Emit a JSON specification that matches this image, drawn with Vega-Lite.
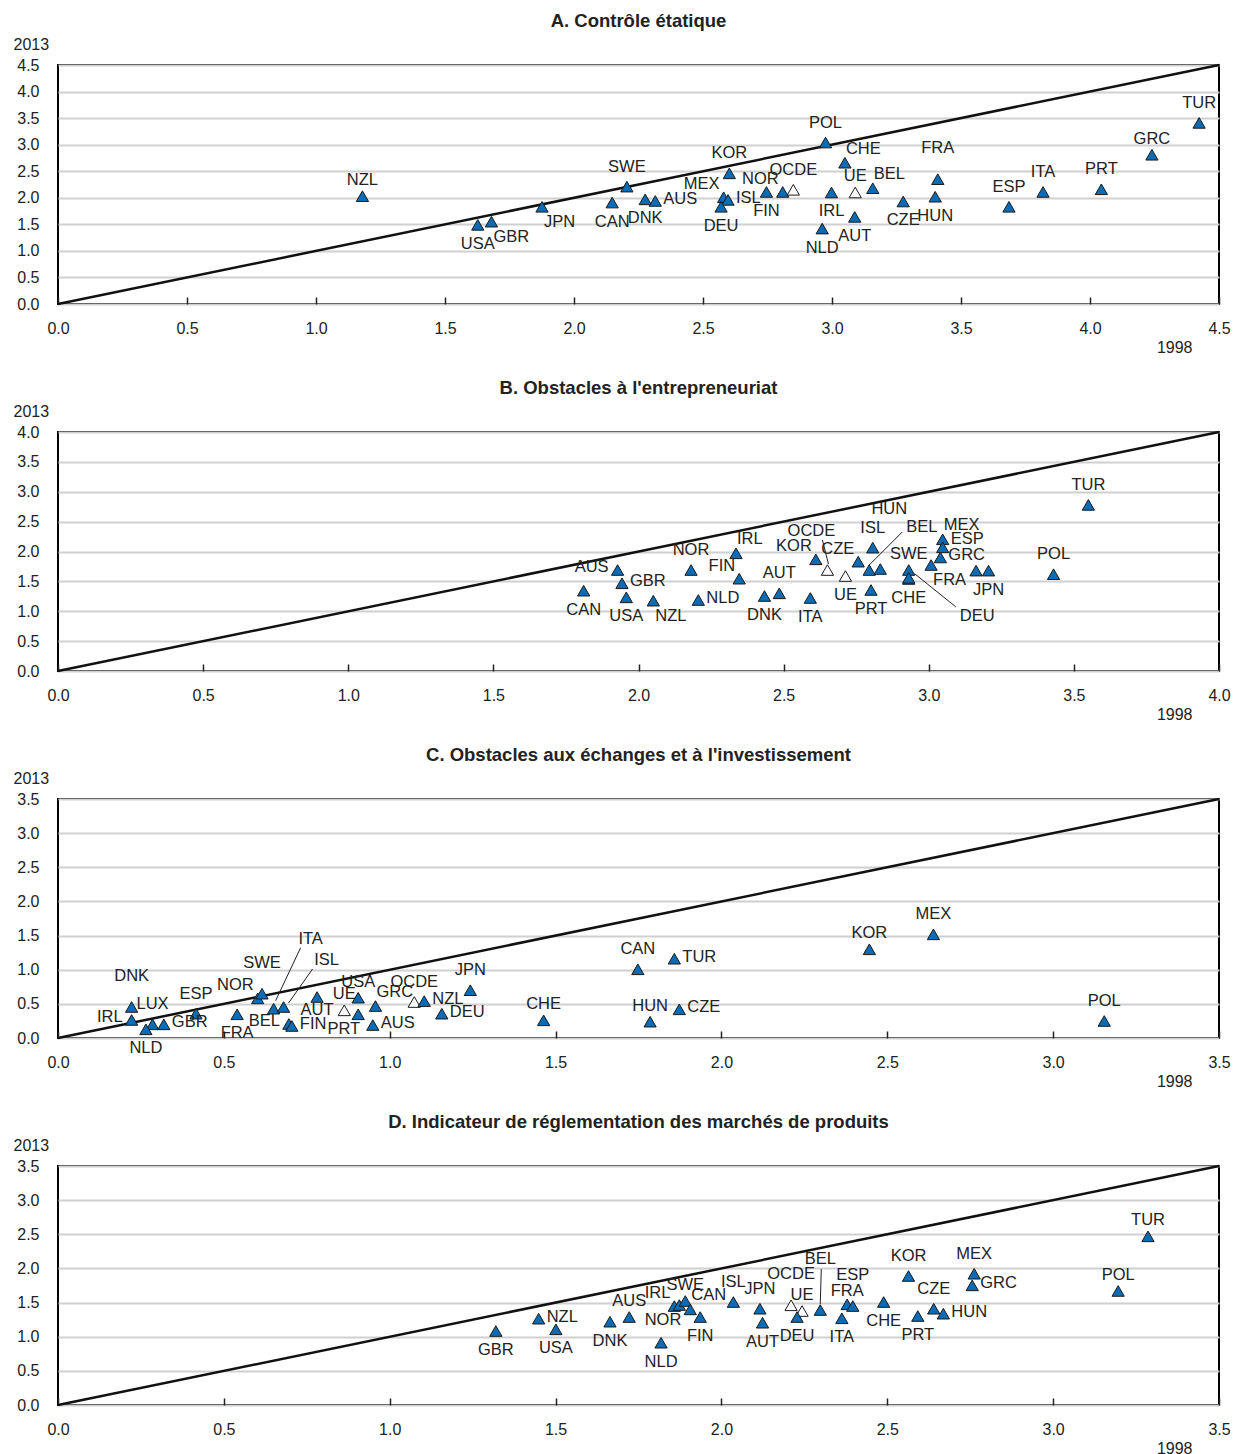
{
  "$schema": "https://vega.github.io/schema/vega-lite/v6.json",
  "padding": {"left": 12, "top": 10, "right": 5, "bottom": 5},
  "config": {
    "font": "Liberation Sans",
    "view": {"stroke": "#000000", "strokeWidth": 2},
    "axis": {"labelFont": "Liberation Sans", "labelFontSize": 16, "labelColor": "#222222", "titleFont": "Liberation Sans", "titleFontSize": 16, "titleFontWeight": "normal", "titleColor": "#222222", "domain": false},
    "axisX": {"grid": false, "tickSize": -7, "tickColor": "#222222", "tickWidth": 1.5, "labelPadding": 23, "labelFlush": false, "titleAngle": 0, "titleAlign": "right", "titleBaseline": "alphabetic", "titleX": 1134, "titleY": 48},
    "axisY": {"grid": true, "gridColor": "#d0d0d0", "gridWidth": 2, "ticks": false, "labelPadding": 19, "titleAngle": 0, "titleAlign": "left", "titleBaseline": "alphabetic", "titleX": -45, "titleY": -16},
    "header": {"labelFont": "Liberation Sans", "labelFontSize": 18.5, "labelFontWeight": "bold", "labelColor": "#222222", "labelOrient": "top", "labelAngle": 0, "labelPadding": -13}
  },
  "data": {"values": [
    {"panel": "A. Contrôle étatique", "kind": "diag", "code": "", "x": 0, "y": 0, "pos": ""},
    {"panel": "A. Contrôle étatique", "kind": "diag", "code": "", "x": 4.5, "y": 4.5, "pos": ""},
    {"panel": "A. Contrôle étatique", "kind": "country", "code": "NZL", "x": 1.18, "y": 2.03, "pos": "ts"},
    {"panel": "A. Contrôle étatique", "kind": "country", "code": "USA", "x": 1.627, "y": 1.49, "pos": "b"},
    {"panel": "A. Contrôle étatique", "kind": "country", "code": "GBR", "x": 1.68, "y": 1.55, "pos": "br"},
    {"panel": "A. Contrôle étatique", "kind": "country", "code": "JPN", "x": 1.876, "y": 1.83, "pos": "br"},
    {"panel": "A. Contrôle étatique", "kind": "country", "code": "CAN", "x": 2.148, "y": 1.91, "pos": "b"},
    {"panel": "A. Contrôle étatique", "kind": "country", "code": "SWE", "x": 2.205, "y": 2.21, "pos": "t"},
    {"panel": "A. Contrôle étatique", "kind": "country", "code": "DNK", "x": 2.276, "y": 1.97, "pos": "b"},
    {"panel": "A. Contrôle étatique", "kind": "country", "code": "AUS", "x": 2.315, "y": 1.94, "pos": "r"},
    {"panel": "A. Contrôle étatique", "kind": "country", "code": "KOR", "x": 2.602, "y": 2.46, "pos": "t"},
    {"panel": "A. Contrôle étatique", "kind": "country", "code": "MEX", "x": 2.58, "y": 2.01, "pos": "tl"},
    {"panel": "A. Contrôle étatique", "kind": "country", "code": "ISL", "x": 2.597, "y": 1.96, "pos": "r"},
    {"panel": "A. Contrôle étatique", "kind": "country", "code": "DEU", "x": 2.57, "y": 1.83, "pos": "b"},
    {"panel": "A. Contrôle étatique", "kind": "country", "code": "FIN", "x": 2.746, "y": 2.11, "pos": "b"},
    {"panel": "A. Contrôle étatique", "kind": "country", "code": "NOR", "x": 2.809, "y": 2.11, "pos": "tl"},
    {"panel": "A. Contrôle étatique", "kind": "aggregate", "code": "OCDE", "x": 2.85, "y": 2.15, "pos": "t"},
    {"panel": "A. Contrôle étatique", "kind": "country", "code": "POL", "x": 2.975, "y": 3.04, "pos": "t"},
    {"panel": "A. Contrôle étatique", "kind": "country", "code": "IRL", "x": 2.998, "y": 2.1, "pos": "b"},
    {"panel": "A. Contrôle étatique", "kind": "country", "code": "CHE", "x": 3.05, "y": 2.66, "pos": "tr"},
    {"panel": "A. Contrôle étatique", "kind": "aggregate", "code": "UE", "x": 3.09, "y": 2.1, "pos": "ts"},
    {"panel": "A. Contrôle étatique", "kind": "country", "code": "BEL", "x": 3.158, "y": 2.18, "pos": "tr"},
    {"panel": "A. Contrôle étatique", "kind": "country", "code": "NLD", "x": 2.962, "y": 1.42, "pos": "b"},
    {"panel": "A. Contrôle étatique", "kind": "country", "code": "AUT", "x": 3.088, "y": 1.64, "pos": "b"},
    {"panel": "A. Contrôle étatique", "kind": "country", "code": "CZE", "x": 3.276, "y": 1.93, "pos": "b"},
    {"panel": "A. Contrôle étatique", "kind": "country", "code": "FRA", "x": 3.41, "y": 2.35, "pos": "tt"},
    {"panel": "A. Contrôle étatique", "kind": "country", "code": "HUN", "x": 3.4, "y": 2.02, "pos": "b"},
    {"panel": "A. Contrôle étatique", "kind": "country", "code": "ESP", "x": 3.686, "y": 1.83, "pos": "t"},
    {"panel": "A. Contrôle étatique", "kind": "country", "code": "ITA", "x": 3.818, "y": 2.11, "pos": "t"},
    {"panel": "A. Contrôle étatique", "kind": "country", "code": "PRT", "x": 4.044, "y": 2.16, "pos": "t"},
    {"panel": "A. Contrôle étatique", "kind": "country", "code": "GRC", "x": 4.24, "y": 2.81, "pos": "ts"},
    {"panel": "A. Contrôle étatique", "kind": "country", "code": "TUR", "x": 4.423, "y": 3.41, "pos": "t"},

    {"panel": "B. Obstacles à l'entrepreneuriat", "kind": "diag", "code": "", "x": 0, "y": 0, "pos": ""},
    {"panel": "B. Obstacles à l'entrepreneuriat", "kind": "diag", "code": "", "x": 4.0, "y": 4.0, "pos": ""},
    {"panel": "B. Obstacles à l'entrepreneuriat", "kind": "country", "code": "CAN", "x": 1.811, "y": 1.344, "pos": "b"},
    {"panel": "B. Obstacles à l'entrepreneuriat", "kind": "country", "code": "AUS", "x": 1.928, "y": 1.69, "pos": "l"},
    {"panel": "B. Obstacles à l'entrepreneuriat", "kind": "country", "code": "GBR", "x": 1.943, "y": 1.468, "pos": "r"},
    {"panel": "B. Obstacles à l'entrepreneuriat", "kind": "country", "code": "USA", "x": 1.958, "y": 1.233, "pos": "b"},
    {"panel": "B. Obstacles à l'entrepreneuriat", "kind": "country", "code": "NZL", "x": 2.051, "y": 1.177, "pos": "br"},
    {"panel": "B. Obstacles à l'entrepreneuriat", "kind": "country", "code": "NOR", "x": 2.181, "y": 1.69, "pos": "t"},
    {"panel": "B. Obstacles à l'entrepreneuriat", "kind": "country", "code": "NLD", "x": 2.206, "y": 1.188, "pos": "r"},
    {"panel": "B. Obstacles à l'entrepreneuriat", "kind": "country", "code": "IRL", "x": 2.336, "y": 1.97, "pos": "tr"},
    {"panel": "B. Obstacles à l'entrepreneuriat", "kind": "country", "code": "FIN", "x": 2.347, "y": 1.545, "pos": "tl"},
    {"panel": "B. Obstacles à l'entrepreneuriat", "kind": "country", "code": "DNK", "x": 2.434, "y": 1.255, "pos": "b"},
    {"panel": "B. Obstacles à l'entrepreneuriat", "kind": "country", "code": "AUT", "x": 2.485, "y": 1.3, "pos": "t"},
    {"panel": "B. Obstacles à l'entrepreneuriat", "kind": "country", "code": "ITA", "x": 2.592, "y": 1.222, "pos": "b"},
    {"panel": "B. Obstacles à l'entrepreneuriat", "kind": "country", "code": "KOR", "x": 2.611, "y": 1.869, "pos": "tl"},
    {"panel": "B. Obstacles à l'entrepreneuriat", "kind": "aggregate", "code": "OCDE", "x": 2.651, "y": 1.69, "pos": "LOCDEB"},
    {"panel": "B. Obstacles à l'entrepreneuriat", "kind": "aggregate", "code": "UE", "x": 2.713, "y": 1.59, "pos": "b"},
    {"panel": "B. Obstacles à l'entrepreneuriat", "kind": "country", "code": "CZE", "x": 2.757, "y": 1.83, "pos": "tl"},
    {"panel": "B. Obstacles à l'entrepreneuriat", "kind": "country", "code": "ISL", "x": 2.807, "y": 2.064, "pos": "t"},
    {"panel": "B. Obstacles à l'entrepreneuriat", "kind": "country", "code": "BEL", "x": 2.795, "y": 1.69, "pos": "LBELB"},
    {"panel": "B. Obstacles à l'entrepreneuriat", "kind": "country", "code": "HUN", "x": 2.833, "y": 1.707, "pos": "t3"},
    {"panel": "B. Obstacles à l'entrepreneuriat", "kind": "country", "code": "PRT", "x": 2.801, "y": 1.356, "pos": "b"},
    {"panel": "B. Obstacles à l'entrepreneuriat", "kind": "country", "code": "SWE", "x": 2.931, "y": 1.69, "pos": "ts"},
    {"panel": "B. Obstacles à l'entrepreneuriat", "kind": "country", "code": "CHE", "x": 2.931, "y": 1.54, "pos": "b"},
    {"panel": "B. Obstacles à l'entrepreneuriat", "kind": "country", "code": "DEU", "x": 2.931, "y": 1.56, "pos": "LDEUB"},
    {"panel": "B. Obstacles à l'entrepreneuriat", "kind": "country", "code": "FRA", "x": 3.008, "y": 1.774, "pos": "br"},
    {"panel": "B. Obstacles à l'entrepreneuriat", "kind": "country", "code": "MEX", "x": 3.048, "y": 2.204, "pos": "tr"},
    {"panel": "B. Obstacles à l'entrepreneuriat", "kind": "country", "code": "ESP", "x": 3.048, "y": 2.07, "pos": "rt"},
    {"panel": "B. Obstacles à l'entrepreneuriat", "kind": "country", "code": "GRC", "x": 3.04, "y": 1.9, "pos": "r"},
    {"panel": "B. Obstacles à l'entrepreneuriat", "kind": "country", "code": "", "x": 3.163, "y": 1.68, "pos": "none"},
    {"panel": "B. Obstacles à l'entrepreneuriat", "kind": "country", "code": "JPN", "x": 3.206, "y": 1.68, "pos": "b"},
    {"panel": "B. Obstacles à l'entrepreneuriat", "kind": "country", "code": "POL", "x": 3.43, "y": 1.62, "pos": "t"},
    {"panel": "B. Obstacles à l'entrepreneuriat", "kind": "country", "code": "TUR", "x": 3.55, "y": 2.78, "pos": "t"},

    {"panel": "C. Obstacles aux échanges et à l'investissement", "kind": "diag", "code": "", "x": 0, "y": 0, "pos": ""},
    {"panel": "C. Obstacles aux échanges et à l'investissement", "kind": "diag", "code": "", "x": 3.5, "y": 3.5, "pos": ""},
    {"panel": "C. Obstacles aux échanges et à l'investissement", "kind": "country", "code": "IRL", "x": 0.222, "y": 0.264, "pos": "l"},
    {"panel": "C. Obstacles aux échanges et à l'investissement", "kind": "country", "code": "DNK", "x": 0.222, "y": 0.454, "pos": "tt"},
    {"panel": "C. Obstacles aux échanges et à l'investissement", "kind": "country", "code": "LUX", "x": 0.285, "y": 0.2, "pos": "t"},
    {"panel": "C. Obstacles aux échanges et à l'investissement", "kind": "country", "code": "NLD", "x": 0.265, "y": 0.127, "pos": "b"},
    {"panel": "C. Obstacles aux échanges et à l'investissement", "kind": "country", "code": "GBR", "x": 0.319, "y": 0.2, "pos": "r"},
    {"panel": "C. Obstacles aux échanges et à l'investissement", "kind": "country", "code": "ESP", "x": 0.416, "y": 0.356, "pos": "t"},
    {"panel": "C. Obstacles aux échanges et à l'investissement", "kind": "country", "code": "FRA", "x": 0.54, "y": 0.347, "pos": "b"},
    {"panel": "C. Obstacles aux échanges et à l'investissement", "kind": "country", "code": "NOR", "x": 0.602, "y": 0.58, "pos": "tl"},
    {"panel": "C. Obstacles aux échanges et à l'investissement", "kind": "country", "code": "SWE", "x": 0.615, "y": 0.649, "pos": "tt"},
    {"panel": "C. Obstacles aux échanges et à l'investissement", "kind": "country", "code": "BEL", "x": 0.696, "y": 0.205, "pos": "l"},
    {"panel": "C. Obstacles aux échanges et à l'investissement", "kind": "country", "code": "ITA", "x": 0.65, "y": 0.429, "pos": "LITAC"},
    {"panel": "C. Obstacles aux échanges et à l'investissement", "kind": "country", "code": "ISL", "x": 0.68, "y": 0.454, "pos": "LISLC"},
    {"panel": "C. Obstacles aux échanges et à l'investissement", "kind": "country", "code": "FIN", "x": 0.705, "y": 0.176, "pos": "r"},
    {"panel": "C. Obstacles aux échanges et à l'investissement", "kind": "country", "code": "AUT", "x": 0.781, "y": 0.6, "pos": "bs"},
    {"panel": "C. Obstacles aux échanges et à l'investissement", "kind": "aggregate", "code": "UE", "x": 0.863, "y": 0.405, "pos": "ts"},
    {"panel": "C. Obstacles aux échanges et à l'investissement", "kind": "country", "code": "USA", "x": 0.905, "y": 0.59, "pos": "ts"},
    {"panel": "C. Obstacles aux échanges et à l'investissement", "kind": "country", "code": "PRT", "x": 0.905, "y": 0.347, "pos": "bl"},
    {"panel": "C. Obstacles aux échanges et à l'investissement", "kind": "country", "code": "GRC", "x": 0.957, "y": 0.468, "pos": "tr"},
    {"panel": "C. Obstacles aux échanges et à l'investissement", "kind": "country", "code": "AUS", "x": 0.949, "y": 0.19, "pos": "r"},
    {"panel": "C. Obstacles aux échanges et à l'investissement", "kind": "aggregate", "code": "OCDE", "x": 1.074, "y": 0.527, "pos": "t"},
    {"panel": "C. Obstacles aux échanges et à l'investissement", "kind": "country", "code": "NZL", "x": 1.104, "y": 0.54, "pos": "r"},
    {"panel": "C. Obstacles aux échanges et à l'investissement", "kind": "country", "code": "DEU", "x": 1.157, "y": 0.356, "pos": "r"},
    {"panel": "C. Obstacles aux échanges et à l'investissement", "kind": "country", "code": "JPN", "x": 1.243, "y": 0.7, "pos": "t"},
    {"panel": "C. Obstacles aux échanges et à l'investissement", "kind": "country", "code": "CHE", "x": 1.464, "y": 0.259, "pos": "ts"},
    {"panel": "C. Obstacles aux échanges et à l'investissement", "kind": "country", "code": "CAN", "x": 1.748, "y": 1.006, "pos": "t"},
    {"panel": "C. Obstacles aux échanges et à l'investissement", "kind": "country", "code": "TUR", "x": 1.858, "y": 1.161, "pos": "r"},
    {"panel": "C. Obstacles aux échanges et à l'investissement", "kind": "country", "code": "HUN", "x": 1.785, "y": 0.239, "pos": "ts"},
    {"panel": "C. Obstacles aux échanges et à l'investissement", "kind": "country", "code": "CZE", "x": 1.873, "y": 0.42, "pos": "r"},
    {"panel": "C. Obstacles aux échanges et à l'investissement", "kind": "country", "code": "KOR", "x": 2.446, "y": 1.299, "pos": "ts"},
    {"panel": "C. Obstacles aux échanges et à l'investissement", "kind": "country", "code": "MEX", "x": 2.639, "y": 1.518, "pos": "t"},
    {"panel": "C. Obstacles aux échanges et à l'investissement", "kind": "country", "code": "POL", "x": 3.154, "y": 0.249, "pos": "t"},

    {"panel": "D. Indicateur de réglementation des marchés de produits", "kind": "diag", "code": "", "x": 0, "y": 0, "pos": ""},
    {"panel": "D. Indicateur de réglementation des marchés de produits", "kind": "diag", "code": "", "x": 3.5, "y": 3.5, "pos": ""},
    {"panel": "D. Indicateur de réglementation des marchés de produits", "kind": "country", "code": "GBR", "x": 1.32, "y": 1.083, "pos": "b"},
    {"panel": "D. Indicateur de réglementation des marchés de produits", "kind": "country", "code": "NZL", "x": 1.449, "y": 1.264, "pos": "r"},
    {"panel": "D. Indicateur de réglementation des marchés de produits", "kind": "country", "code": "USA", "x": 1.501, "y": 1.108, "pos": "b"},
    {"panel": "D. Indicateur de réglementation des marchés de produits", "kind": "country", "code": "DNK", "x": 1.664, "y": 1.22, "pos": "b"},
    {"panel": "D. Indicateur de réglementation des marchés de produits", "kind": "country", "code": "AUS", "x": 1.722, "y": 1.288, "pos": "ts"},
    {"panel": "D. Indicateur de réglementation des marchés de produits", "kind": "country", "code": "NLD", "x": 1.818, "y": 0.912, "pos": "b"},
    {"panel": "D. Indicateur de réglementation des marchés de produits", "kind": "country", "code": "IRL", "x": 1.858, "y": 1.449, "pos": "tl"},
    {"panel": "D. Indicateur de réglementation des marchés de produits", "kind": "country", "code": "NOR", "x": 1.873, "y": 1.464, "pos": "bl"},
    {"panel": "D. Indicateur de réglementation des marchés de produits", "kind": "country", "code": "SWE", "x": 1.891, "y": 1.523, "pos": "ts"},
    {"panel": "D. Indicateur de réglementation des marchés de produits", "kind": "country", "code": "CAN", "x": 1.906, "y": 1.4, "pos": "tr"},
    {"panel": "D. Indicateur de réglementation des marchés de produits", "kind": "country", "code": "FIN", "x": 1.936, "y": 1.288, "pos": "b"},
    {"panel": "D. Indicateur de réglementation des marchés de produits", "kind": "country", "code": "ISL", "x": 2.036, "y": 1.508, "pos": "t"},
    {"panel": "D. Indicateur de réglementation des marchés de produits", "kind": "country", "code": "JPN", "x": 2.116, "y": 1.41, "pos": "t"},
    {"panel": "D. Indicateur de réglementation des marchés de produits", "kind": "country", "code": "AUT", "x": 2.124, "y": 1.205, "pos": "b"},
    {"panel": "D. Indicateur de réglementation des marchés de produits", "kind": "aggregate", "code": "OCDE", "x": 2.21, "y": 1.46, "pos": "tt"},
    {"panel": "D. Indicateur de réglementation des marchés de produits", "kind": "aggregate", "code": "UE", "x": 2.243, "y": 1.376, "pos": "ts"},
    {"panel": "D. Indicateur de réglementation des marchés de produits", "kind": "country", "code": "DEU", "x": 2.228, "y": 1.288, "pos": "b"},
    {"panel": "D. Indicateur de réglementation des marchés de produits", "kind": "country", "code": "BEL", "x": 2.298, "y": 1.391, "pos": "LBELD"},
    {"panel": "D. Indicateur de réglementation des marchés de produits", "kind": "country", "code": "ITA", "x": 2.363, "y": 1.27, "pos": "b"},
    {"panel": "D. Indicateur de réglementation des marchés de produits", "kind": "country", "code": "FRA", "x": 2.379, "y": 1.474, "pos": "tx"},
    {"panel": "D. Indicateur de réglementation des marchés de produits", "kind": "country", "code": "ESP", "x": 2.396, "y": 1.449, "pos": "tt"},
    {"panel": "D. Indicateur de réglementation des marchés de produits", "kind": "country", "code": "CHE", "x": 2.489, "y": 1.508, "pos": "b"},
    {"panel": "D. Indicateur de réglementation des marchés de produits", "kind": "country", "code": "KOR", "x": 2.564, "y": 1.889, "pos": "t"},
    {"panel": "D. Indicateur de réglementation des marchés de produits", "kind": "country", "code": "PRT", "x": 2.592, "y": 1.303, "pos": "b"},
    {"panel": "D. Indicateur de réglementation des marchés de produits", "kind": "country", "code": "CZE", "x": 2.64, "y": 1.41, "pos": "t"},
    {"panel": "D. Indicateur de réglementation des marchés de produits", "kind": "country", "code": "HUN", "x": 2.669, "y": 1.337, "pos": "r"},
    {"panel": "D. Indicateur de réglementation des marchés de produits", "kind": "country", "code": "MEX", "x": 2.762, "y": 1.922, "pos": "t"},
    {"panel": "D. Indicateur de réglementation des marchés de produits", "kind": "country", "code": "GRC", "x": 2.756, "y": 1.752, "pos": "r"},
    {"panel": "D. Indicateur de réglementation des marchés de produits", "kind": "country", "code": "POL", "x": 3.196, "y": 1.67, "pos": "ts"},
    {"panel": "D. Indicateur de réglementation des marchés de produits", "kind": "country", "code": "TUR", "x": 3.286, "y": 2.47, "pos": "ts"}
  ]},
  "facet": {"field": "panel", "type": "nominal", "title": null},
  "columns": 1,
  "spacing": 21,
  "resolve": {"scale": {"x": "independent", "y": "independent"}, "axis": {"x": "independent", "y": "independent"}},
  "spec": {
    "width": 1161,
    "height": 239,
    "encoding": {
      "x": {"field": "x", "type": "quantitative", "title": "1998", "scale": {"zero": true, "nice": false}, "axis": {"tickCount": 9, "format": ".1f"}},
      "y": {"field": "y", "type": "quantitative", "title": "2013", "scale": {"zero": true, "nice": false}, "axis": {"tickCount": 9, "format": ".1f"}}
    },
    "layer": [
      {"transform": [{"filter": "datum.kind === 'diag'"}], "mark": {"type": "line", "color": "#111111", "strokeWidth": 2.5}},
      {"transform": [{"filter": "datum.pos === 'LOCDEB'"}], "mark": {"type": "rule", "color": "#222222", "strokeWidth": 1, "xOffset": -5, "yOffset": -30, "x2Offset": 1, "y2Offset": -6}, "encoding": {"x2": {"field": "x"}, "y2": {"field": "y"}}},
      {"transform": [{"filter": "datum.pos === 'LBELB'"}], "mark": {"type": "rule", "color": "#222222", "strokeWidth": 1, "xOffset": 0, "yOffset": -5, "x2Offset": 33, "y2Offset": -38}, "encoding": {"x2": {"field": "x"}, "y2": {"field": "y"}}},
      {"transform": [{"filter": "datum.pos === 'LDEUB'"}], "mark": {"type": "rule", "color": "#222222", "strokeWidth": 1, "xOffset": 6, "yOffset": -4, "x2Offset": 47, "y2Offset": 29}, "encoding": {"x2": {"field": "x"}, "y2": {"field": "y"}}},
      {"transform": [{"filter": "datum.pos === 'LITAC'"}], "mark": {"type": "rule", "color": "#222222", "strokeWidth": 1, "xOffset": 2, "yOffset": -8, "x2Offset": 27, "y2Offset": -61}, "encoding": {"x2": {"field": "x"}, "y2": {"field": "y"}}},
      {"transform": [{"filter": "datum.pos === 'LISLC'"}], "mark": {"type": "rule", "color": "#222222", "strokeWidth": 1, "xOffset": 5, "yOffset": -4, "x2Offset": 29, "y2Offset": -38}, "encoding": {"x2": {"field": "x"}, "y2": {"field": "y"}}},
      {"transform": [{"filter": "datum.pos === 'LBELD'"}], "mark": {"type": "rule", "color": "#222222", "strokeWidth": 1, "xOffset": 1, "yOffset": -41, "x2Offset": 0, "y2Offset": -6}, "encoding": {"x2": {"field": "x"}, "y2": {"field": "y"}}},
      {"transform": [{"filter": "datum.kind !== 'diag'"}], "mark": {"type": "point", "shape": "triangle-up", "filled": true, "size": 150, "stroke": "#1a1a1a", "strokeWidth": 1, "opacity": 1},
       "encoding": {"fill": {"field": "kind", "type": "nominal", "scale": {"domain": ["country", "aggregate"], "range": ["#0b6cb5", "#ffffff"]}, "legend": null}}},
      {"transform": [{"filter": "datum.pos === 't'"}], "mark": {"type": "text", "fontSize": 16.5, "color": "#222222", "align": "center", "baseline": "middle", "dx": 0, "dy": -20}, "encoding": {"text": {"field": "code"}}},
      {"transform": [{"filter": "datum.pos === 'ts'"}], "mark": {"type": "text", "fontSize": 16.5, "color": "#222222", "align": "center", "baseline": "middle", "dx": 0, "dy": -16}, "encoding": {"text": {"field": "code"}}},
      {"transform": [{"filter": "datum.pos === 'tx'"}], "mark": {"type": "text", "fontSize": 16.5, "color": "#222222", "align": "center", "baseline": "middle", "dx": 0, "dy": -13}, "encoding": {"text": {"field": "code"}}},
      {"transform": [{"filter": "datum.pos === 'tt'"}], "mark": {"type": "text", "fontSize": 16.5, "color": "#222222", "align": "center", "baseline": "middle", "dx": 0, "dy": -31}, "encoding": {"text": {"field": "code"}}},
      {"transform": [{"filter": "datum.pos === 't3'"}], "mark": {"type": "text", "fontSize": 16.5, "color": "#222222", "align": "center", "baseline": "middle", "dx": 9, "dy": -60}, "encoding": {"text": {"field": "code"}}},
      {"transform": [{"filter": "datum.pos === 'b'"}], "mark": {"type": "text", "fontSize": 16.5, "color": "#222222", "align": "center", "baseline": "middle", "dx": 0, "dy": 19}, "encoding": {"text": {"field": "code"}}},
      {"transform": [{"filter": "datum.pos === 'bs'"}], "mark": {"type": "text", "fontSize": 16.5, "color": "#222222", "align": "center", "baseline": "middle", "dx": 0, "dy": 13}, "encoding": {"text": {"field": "code"}}},
      {"transform": [{"filter": "datum.pos === 'r'"}], "mark": {"type": "text", "fontSize": 16.5, "color": "#222222", "align": "left", "baseline": "middle", "dx": 8, "dy": -2}, "encoding": {"text": {"field": "code"}}},
      {"transform": [{"filter": "datum.pos === 'rt'"}], "mark": {"type": "text", "fontSize": 16.5, "color": "#222222", "align": "left", "baseline": "middle", "dx": 8, "dy": -8}, "encoding": {"text": {"field": "code"}}},
      {"transform": [{"filter": "datum.pos === 'l'"}], "mark": {"type": "text", "fontSize": 16.5, "color": "#222222", "align": "right", "baseline": "middle", "dx": -9, "dy": -3}, "encoding": {"text": {"field": "code"}}},
      {"transform": [{"filter": "datum.pos === 'tr'"}], "mark": {"type": "text", "fontSize": 16.5, "color": "#222222", "align": "left", "baseline": "middle", "dx": 1, "dy": -14}, "encoding": {"text": {"field": "code"}}},
      {"transform": [{"filter": "datum.pos === 'tl'"}], "mark": {"type": "text", "fontSize": 16.5, "color": "#222222", "align": "right", "baseline": "middle", "dx": -4, "dy": -13}, "encoding": {"text": {"field": "code"}}},
      {"transform": [{"filter": "datum.pos === 'br'"}], "mark": {"type": "text", "fontSize": 16.5, "color": "#222222", "align": "left", "baseline": "middle", "dx": 2, "dy": 15}, "encoding": {"text": {"field": "code"}}},
      {"transform": [{"filter": "datum.pos === 'bl'"}], "mark": {"type": "text", "fontSize": 16.5, "color": "#222222", "align": "right", "baseline": "middle", "dx": 2, "dy": 15}, "encoding": {"text": {"field": "code"}}},
      {"transform": [{"filter": "datum.pos === 'LOCDEB'"}], "mark": {"type": "text", "fontSize": 16.5, "color": "#222222", "align": "center", "baseline": "middle", "dx": -16, "dy": -39}, "encoding": {"text": {"field": "code"}}},
      {"transform": [{"filter": "datum.pos === 'LBELB'"}], "mark": {"type": "text", "fontSize": 16.5, "color": "#222222", "align": "left", "baseline": "middle", "dx": 37, "dy": -43}, "encoding": {"text": {"field": "code"}}},
      {"transform": [{"filter": "datum.pos === 'LDEUB'"}], "mark": {"type": "text", "fontSize": 16.5, "color": "#222222", "align": "left", "baseline": "middle", "dx": 51, "dy": 38}, "encoding": {"text": {"field": "code"}}},
      {"transform": [{"filter": "datum.pos === 'LITAC'"}], "mark": {"type": "text", "fontSize": 16.5, "color": "#222222", "align": "center", "baseline": "middle", "dx": 37, "dy": -70}, "encoding": {"text": {"field": "code"}}},
      {"transform": [{"filter": "datum.pos === 'LISLC'"}], "mark": {"type": "text", "fontSize": 16.5, "color": "#222222", "align": "center", "baseline": "middle", "dx": 43, "dy": -47}, "encoding": {"text": {"field": "code"}}},
      {"transform": [{"filter": "datum.pos === 'LBELD'"}], "mark": {"type": "text", "fontSize": 16.5, "color": "#222222", "align": "center", "baseline": "middle", "dx": 0, "dy": -51}, "encoding": {"text": {"field": "code"}}}
    ]
  }
}
